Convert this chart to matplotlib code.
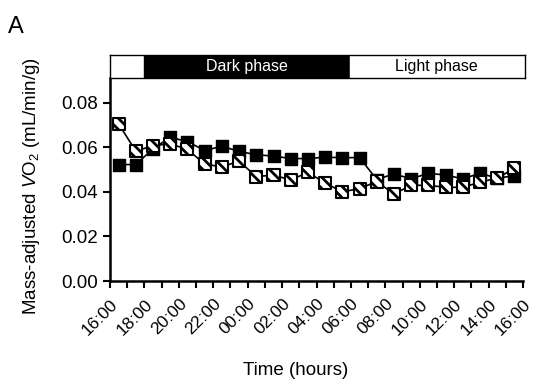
import matplotlib
matplotlib.use('Agg')
import matplotlib.pyplot as plt
import numpy as np

plt.rcParams['font.family'] = ['Liberation Sans', 'DejaVu Sans']
plt.rcParams['mathtext.fontset'] = 'custom'
plt.rcParams['mathtext.rm'] = 'Liberation Sans'
plt.rcParams['mathtext.it'] = 'Liberation Sans:italic'
plt.rcParams['hatch.linewidth'] = 2.0

# hours after 16:00, measured at half hours
hours = np.arange(24) + 0.5
black_vals = [0.0522, 0.0522, 0.0593, 0.0644, 0.0625, 0.0585, 0.0604, 0.0581,
              0.0566, 0.0560, 0.0549, 0.0549, 0.0555, 0.0553, 0.0553, 0.0455,
              0.0480, 0.0458, 0.0483, 0.0475, 0.0458, 0.0483, 0.0461, 0.0472]
black_err = [0.001, 0.001, 0.001, 0.001, 0.001, 0.001, 0.001, 0.0015,
             0.001, 0.001, 0.0015, 0.001, 0.001, 0.001, 0.001, 0.001,
             0.001, 0.001, 0.001, 0.001, 0.001, 0.001, 0.001, 0.001]
hatch_vals = [0.0704, 0.0582, 0.0607, 0.0615, 0.0590, 0.0524, 0.0512, 0.0537,
              0.0468, 0.0475, 0.0453, 0.0487, 0.0439, 0.0400, 0.0414, 0.0446,
              0.0390, 0.0429, 0.0429, 0.0420, 0.0420, 0.0443, 0.0461, 0.0505]
hatch_err = [0.0015, 0.001, 0.001, 0.001, 0.001, 0.001, 0.001, 0.001,
             0.001, 0.001, 0.001, 0.001, 0.0015, 0.001, 0.001, 0.001,
             0.001, 0.001, 0.001, 0.001, 0.001, 0.001, 0.001, 0.001]
tick_labels = ['16:00', '18:00', '20:00', '22:00', '00:00', '02:00', '04:00',
               '06:00', '08:00', '10:00', '12:00', '14:00', '16:00']
phases = [(0, 2, 'white', ''), (2, 14, 'black', 'Dark phase'),
          (14, 24, 'white', 'Light phase')]

fig = plt.figure(figsize=(5.42, 3.85), dpi=100)
ax = fig.add_axes([0.203, 0.2701, 0.762, 0.5273])
bar = fig.add_axes([0.203, 0.7974, 0.766, 0.06])

ax.errorbar(hours, black_vals, yerr=black_err, color='black', lw=1.2,
            capsize=2, elinewidth=1, zorder=2)
ax.scatter(hours, black_vals, marker='s', s=75, color='black', zorder=3)
ax.errorbar(hours, hatch_vals, yerr=hatch_err, color='black', lw=1.2,
            capsize=2, elinewidth=1, zorder=4)
ax.scatter(hours, hatch_vals, marker='s', s=75, facecolor='white',
           edgecolor='black', linewidth=1.5, hatch='\\\\\\', zorder=5)

ax.set_xlim(0, 24)
ax.set_ylim(0, 0.091)
ax.set_yticks([0, 0.02, 0.04, 0.06, 0.08])
ax.set_yticklabels(['0.00', '0.02', '0.04', '0.06', '0.08'], fontsize=13.5)
ax.set_xticks(np.arange(0, 25, 2))
ax.set_xticks(np.arange(0, 25, 1), minor=True)
ax.set_xticklabels(tick_labels, rotation=45, ha='right', rotation_mode='anchor',
                   fontsize=12.5)
ax.tick_params(axis='both', direction='out', width=1.5, length=5)
ax.tick_params(axis='x', which='minor', direction='out', width=1.5, length=5)
ax.tick_params(axis='x', pad=6)
for s in ['top', 'right']:
    ax.spines[s].set_visible(False)
for s in ['left', 'bottom']:
    ax.spines[s].set_linewidth(1.8)
ax.set_xlabel('Time (hours)', fontsize=13.5)
ax.xaxis.set_label_coords(0.45, -0.40)
ax.set_ylabel(r'Mass-adjusted $\mathit{V}$O$_2$ (mL/min/g)', fontsize=13.5)
ax.yaxis.set_label_coords(-0.165, 0.47)

for start, end, col, txt in phases:
    bar.axvspan(start, end, color=col)
    if txt:
        bar.text((start + end) / 2, 0.5, txt, ha='center', va='center',
                 color='white' if col == 'black' else 'black', fontsize=11.5)
bar.set_xlim(0, 24.2)
bar.set_ylim(0, 1)
bar.set_xticks([])
bar.set_yticks([])
for s in bar.spines.values():
    s.set_linewidth(1.0)

fig.text(0.015, 0.915, 'A', fontsize=17)

fig.savefig('out.png', dpi=100)
